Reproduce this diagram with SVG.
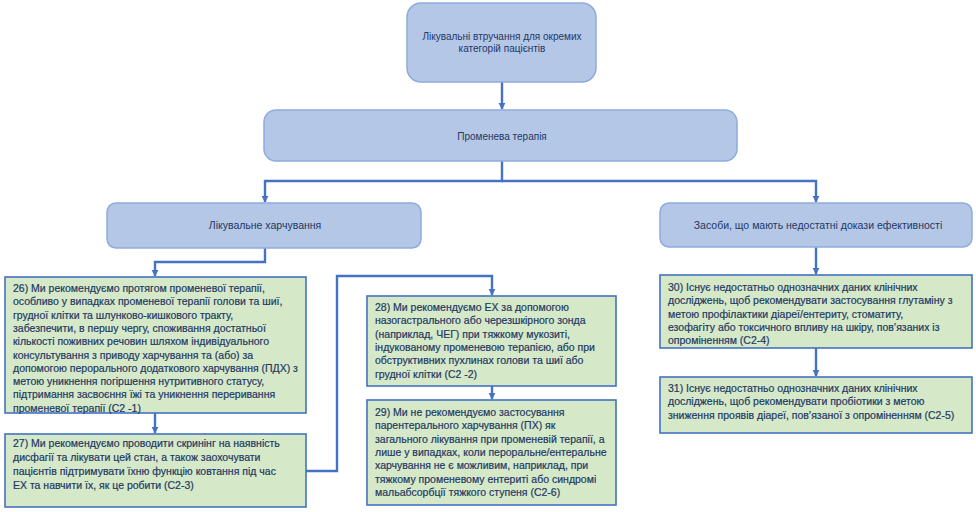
<svg xmlns="http://www.w3.org/2000/svg" width="976" height="512" viewBox="0 0 976 512">
<style>
.bn{fill:#b4c7e7;stroke:#8faadc;stroke-width:1.5}
.gb{fill:#d5e8c8;stroke:#4472c4;stroke-width:1.6}
.t{font-family:"Liberation Sans",Arial,sans-serif;font-size:10.5px;fill:#1f3864;stroke:#1f3864;stroke-width:0.2}
.tc{font-family:"Liberation Sans",Arial,sans-serif;font-size:10px;fill:#1f3864;text-anchor:middle}
.c{fill:none;stroke:#4472c4;stroke-width:2.4}
</style>
<defs>
<marker id="ah" viewBox="0 0 10 10" refX="9" refY="5" markerWidth="3" markerHeight="3" orient="auto" markerUnits="strokeWidth">
<path d="M0 0L10 5L0 10z" fill="#4472c4"/>
</marker>
</defs>
<rect width="976" height="512" fill="#ffffff"/>
<g id="connectors">
<path class="c" d="M502 82V109" marker-end="url(#ah)"/>
<path class="c" d="M502 161V181H265V202" marker-end="url(#ah)"/>
<path class="c" d="M502 181H816V202" marker-end="url(#ah)"/>
<path class="c" d="M265 248V262H155V276" marker-end="url(#ah)"/>
<path class="c" d="M155 413V433" marker-end="url(#ah)"/>
<path class="c" d="M306 471H337V276H492V295" marker-end="url(#ah)"/>
<path class="c" d="M492 386V399" marker-end="url(#ah)"/>
<path class="c" d="M816 247V274" marker-end="url(#ah)"/>
<path class="c" d="M816 348V376" marker-end="url(#ah)"/>
</g>
<g id="n-top">
<rect class="bn" x="407" y="3" width="189" height="79" rx="14"/>
<text class="tc" x="502" y="40">Лікувальні втручання для окремих</text>
<text class="tc" x="502" y="52">категорій пацієнтів</text>
</g>
<g id="n-radio">
<rect class="bn" x="264" y="110" width="473" height="51" rx="12"/>
<text class="tc" x="502" y="140">Променева терапія</text>
</g>
<g id="n-nutrition">
<rect class="bn" x="107" y="203" width="314" height="45" rx="9"/>
<text class="tc" x="265" y="229" style="font-size:10.5px">Лікувальне харчування</text>
</g>
<g id="n-insufficient">
<rect class="bn" x="660" y="203" width="312" height="44" rx="9"/>
<text class="tc" x="818" y="229" style="font-size:10.5px">Засоби, що мають недостатні докази ефективності</text>
</g>
<g id="b26">
<rect class="gb" x="5" y="277" width="301" height="136"/>
<text class="t" x="13" y="292">26) Ми рекомендуємо протягом променевої терапії,</text>
<text class="t" x="13" y="305.3">особливо  у випадках променевої терапії голови та шиї,</text>
<text class="t" x="13" y="318.6">грудної клітки та шлунково-кишкового тракту,</text>
<text class="t" x="13" y="331.9">забезпечити, в першу чергу, споживання достатньої</text>
<text class="t" x="13" y="345.2">кількості поживних речовин шляхом індивідуального</text>
<text class="t" x="13" y="358.5">консультування з приводу харчування та (або) за</text>
<text class="t" x="13" y="371.8">допомогою перорального додаткового харчування (ПДХ)  з</text>
<text class="t" x="13" y="385.1">метою уникнення погіршення нутритивного статусу,</text>
<text class="t" x="13" y="398.4">підтримання засвоєння їжі та уникнення переривання</text>
<text class="t" x="13" y="411.7">променевої терапії (С2 -1)</text>
</g>
<g id="b27">
<rect class="gb" x="5" y="434" width="301" height="73"/>
<text class="t" x="13" y="447">27) Ми рекомендуємо проводити скринінг на наявність</text>
<text class="t" x="13" y="461">дисфагії та лікувати цей стан, а також заохочувати</text>
<text class="t" x="13" y="475">пацієнтів підтримувати їхню функцію ковтання під час</text>
<text class="t" x="13" y="489">ЕХ та навчити їх, як це робити (С2-3)</text>
</g>
<g id="b28">
<rect class="gb" x="367" y="296" width="249" height="90"/>
<text class="t" x="375" y="311">28) Ми рекомендуємо ЕХ за допомогою</text>
<text class="t" x="375" y="324.3">назогастрального або черезшкірного зонда</text>
<text class="t" x="375" y="337.6">(наприклад, ЧЕГ) при тяжкому мукозиті,</text>
<text class="t" x="375" y="350.9">індукованому променевою терапією, або при</text>
<text class="t" x="375" y="364.2">обструктивних пухлинах голови та шиї або</text>
<text class="t" x="375" y="377.5">грудної клітки (С2 -2)</text>
</g>
<g id="b29">
<rect class="gb" x="367" y="400" width="249" height="105"/>
<text class="t" x="375" y="416">29) Ми не рекомендуємо застосування</text>
<text class="t" x="375" y="429.3">парентерального харчування (ПХ) як</text>
<text class="t" x="375" y="442.6">загального лікування при променевій терапії, а</text>
<text class="t" x="375" y="455.9">лише у випадках, коли пероральне/ентеральне</text>
<text class="t" x="375" y="469.2">харчування не є можливим, наприклад, при</text>
<text class="t" x="375" y="482.5">тяжкому променевому ентериті або синдромі</text>
<text class="t" x="375" y="495.8">мальабсорбції тяжкого ступеня (С2-6)</text>
</g>
<g id="b30">
<rect class="gb" x="660" y="275" width="312" height="73"/>
<text class="t" x="668" y="291">30) Існує недостатньо однозначних даних клінічних</text>
<text class="t" x="668" y="304.3">досліджень, щоб рекомендувати застосування глутаміну з</text>
<text class="t" x="668" y="317.6">метою профілактики діареї/ентериту, стоматиту,</text>
<text class="t" x="668" y="330.9">езофагіту або токсичного впливу на шкіру, пов’язаних із</text>
<text class="t" x="668" y="344.2">опроміненням (С2-4)</text>
</g>
<g id="b31">
<rect class="gb" x="660" y="377" width="312" height="56"/>
<text class="t" x="668" y="392">31) Існує недостатньо однозначних даних клінічних</text>
<text class="t" x="668" y="405.3">досліджень, щоб рекомендувати пробіотики з метою</text>
<text class="t" x="668" y="418.6">зниження проявів діареї, пов’язаної з опроміненням (С2-5)</text>
</g>
</svg>
